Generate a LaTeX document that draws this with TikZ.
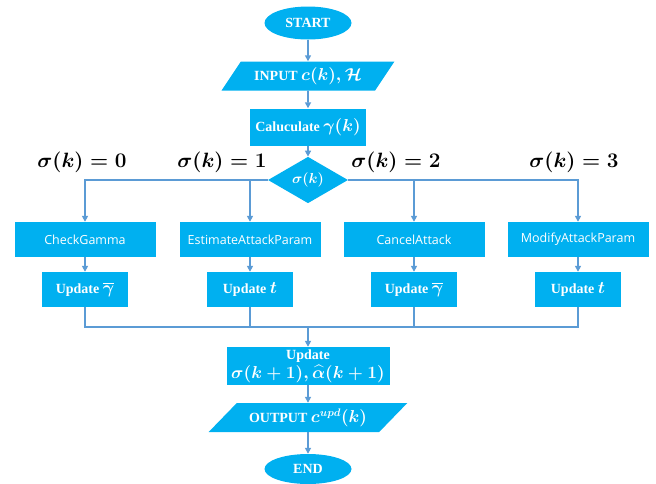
\documentclass[tikz,border=0pt]{standalone}
\usepackage{fontspec}
\usepackage{amsmath,bm}
\setmainfont{Liberation Serif}
\newfontfamily\procfont{Open Sans}
\usetikzlibrary{shapes.geometric,arrows.meta}
\definecolor{boxblue}{RGB}{0,176,240}
\definecolor{linkblue}{RGB}{91,155,213}
% bold math, a little larger than the words round it
\newcommand{\bmath}[1]{{\fontsize{16}{17}\selectfont$\bm{#1}$}}

\begin{document}
\begin{tikzpicture}[x=1pt,y=-1pt,
    block/.style={fill=boxblue, text=white, inner sep=0pt,
        font=\fontsize{14}{18}\selectfont\bfseries\boldmath},
    terminal/.style={block, ellipse, minimum width=87, minimum height=33},
    inout/.style={block, trapezium, trapezium stretches=true,
        minimum height=29},
    stepbox/.style={block, rectangle, minimum width=116, minimum height=37},
    procbox/.style={block, rectangle, minimum width=141, minimum height=35,
        font=\fontsize{12.5}{14}\selectfont\procfont},
    updbox/.style={block, rectangle, minimum width=86, minimum height=35},
    case/.style={font=\fontsize{20}{24}\selectfont\boldmath},
    link/.style={linkblue, line width=1.6pt},
    arrow/.style={link, -{Triangle[length=6pt,width=6pt]}}]

    % frame of the whole page
    \useasboundingbox (0,0) rectangle (656,483);

    % Top part
    \node[terminal] (start) at (308,23) {START};
    \node[inout, trapezium left angle=48, trapezium right angle=132,
        minimum width=173] (input) at (308,76) {INPUT \bmath{c(k),\mathcal{H}}};
    \node[stepbox] (calc) at (308,127) {Caluculate \bmath{\gamma(k)}};
    \node[block, diamond, minimum width=80, minimum height=38,
        font=\fontsize{14}{16}\selectfont\boldmath] (dec) at (308,180) {$\bm{\sigma(k)}$};

    \draw[arrow] (start) -- (input);
    \draw[arrow] (input) -- (calc);
    \draw[arrow] (calc) -- (dec);

    % The four cases
    \node[case] (c0) at (82,162) {$\bm{\sigma(k)=0}$};
    \node[case] (c1) at (222,162) {$\bm{\sigma(k)=1}$};
    \node[case] (c2) at (396,162) {$\bm{\sigma(k)=2}$};
    \node[case] (c3) at (574,162) {$\bm{\sigma(k)=3}$};

    \node[procbox] (p0) at (85,239.5) {CheckGamma};
    \node[procbox] (p1) at (250,239.5) {EstimateAttackParam};
    \node[procbox] (p2) at (414,239.5) {CancelAttack};
    \node[procbox] (p3) at (578,239.5) {ModifyAttackParam};

    \node[updbox] (u0) at (85,289.5) {Update \bmath{\overline{\gamma}}};
    \node[updbox] (u1) at (250,289.5) {Update \bmath{t}};
    \node[updbox] (u2) at (414,289.5) {Update \bmath{\overline{\gamma}}};
    \node[updbox] (u3) at (578,289.5) {Update \bmath{t}};

    % Branches out of the decision
    \draw[arrow] (dec.west) -| (p0.north);
    \draw[arrow] (dec.east) -| (p3.north);
    \draw[arrow] (dec.west -| p1.north) -- (p1.north);
    \draw[arrow] (dec.east -| p2.north) -- (p2.north);

    \foreach \i in {0,...,3}
        \draw[arrow] (p\i) -- (u\i);

    % Merge
    \coordinate (mrg) at (308,327);
    \draw[link] (u0.south) |- (mrg);
    \draw[link] (u3.south) |- (mrg);
    \draw[link] (u1.south) -- (u1.south |- mrg);
    \draw[link] (u2.south) -- (u2.south |- mrg);

    % Bottom part
    \node[stepbox, minimum width=163, minimum height=38, align=center]
        (upd) at (308,366) {Update\\[1pt]\bmath{\sigma(k+1),\widehat{\alpha}(k+1)}};
    \node[inout, trapezium left angle=38, trapezium right angle=142,
        minimum width=199] (output) at (308,417.5) {OUTPUT \bmath{c^{upd}(k)}};
    \node[terminal, minimum height=30] (end) at (308,469) {END};

    \draw[arrow] (mrg) -- (upd);
    \draw[arrow] (upd) -- (output);
    \draw[arrow] (output) -- (end);
\end{tikzpicture}
\end{document}
